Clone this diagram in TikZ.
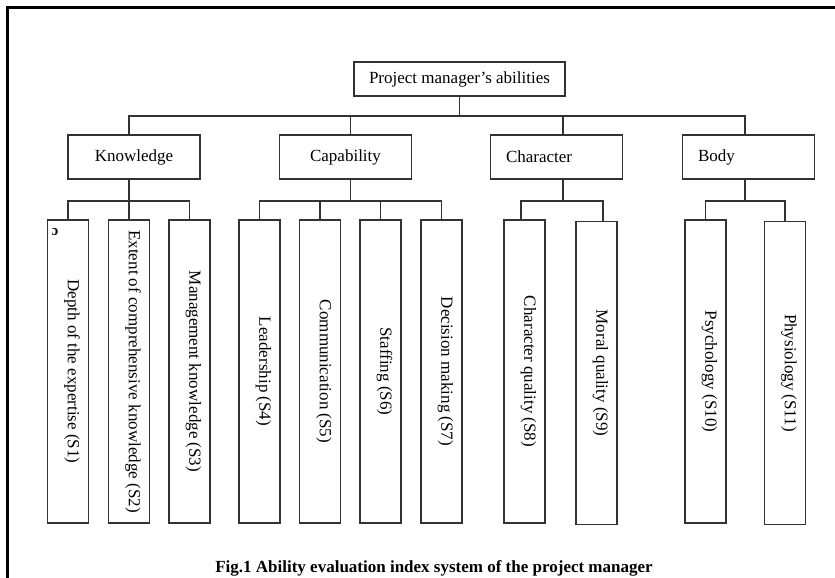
\documentclass[tikz,border=0pt]{standalone}
\usepackage{fontspec}
\setmainfont{Liberation Serif}
\usepackage{tikz}

\newcommand{\vtext}[1]{\hspace*{8pt}\rotatebox{-90}{#1}}

\begin{document}
\begin{tikzpicture}
		[x=1pt,y=-1pt,line cap=round,
		font=\fontsize{17}{20}\selectfont,
		%Styles
		box line/.style={draw=black!80,line width=1.6pt},
		root node/.style={box line,minimum width=211pt,minimum height=34pt,inner sep=0pt},
		group node/.style={box line,minimum width=132pt,minimum height=44pt,inner sep=0pt},
		left group/.style={group node,text width=101pt,inner xsep=15pt,align=left},
		leaf node/.style={box line,minimum width=41pt,minimum height=303pt,inner sep=0pt},
		connector/.style={black!80,line width=1.5pt},
		caption text/.style={font=\fontsize{17}{20}\selectfont\bfseries}
		]
		
		\useasboundingbox (0,0) rectangle (835,578);
		\draw[line width=2.5pt] (7.5,578) -- (7.5,7.5) -- (835,7.5);
		
		%The graphic
		\node[root node] (A) at (459.5, 79) {Project manager's abilities};
		
		\node[group node] (B) at (134, 157) {Knowledge};
		\node[group node] (C) at (345.5, 157) {Capability};
		\node[left group] (D) at (556.5, 157) {Character};
		\node[left group] (E) at (748.5, 157) {Body};
		
		\node[leaf node] (F) at (68, 371.5) {\vtext{Depth of the expertise (S1)}};
		\node[leaf node] (G) at (129, 371.5) {\vtext{Extent of comprehensive knowledge (S2)}};
		\node[leaf node] (H) at (189.5, 371.5) {\vtext{Management knowledge (S3)}};
		\node[leaf node] (I) at (259.5, 371.5) {\vtext{Leadership (S4)}};
		\node[leaf node] (J) at (320, 371.5) {\vtext{Communication (S5)}};
		\node[leaf node] (K) at (380.5, 371.5) {\vtext{Staffing (S6)}};
		\node[leaf node] (L) at (441.5, 371.5) {\vtext{Decision making (S7)}};
		\node[leaf node] (M) at (524.5, 371.5) {\vtext{Character quality (S8)}};
		\node[leaf node] (N) at (596.5, 373) {\vtext{Moral quality (S9)}};
		\node[leaf node] (O) at (705.5, 371.5) {\vtext{Psychology (S10)}};
		\node[leaf node] (P) at (785, 373) {\vtext{Physiology (S11)}};
		
		\node[font=\fontsize{15}{15}\selectfont\bfseries] (mark) at (55, 232) {\rotatebox{180}{c}};
		
		\node[caption text] (cap) at (434, 568) {Fig.1 Ability evaluation index system of the project manager};
		
		\draw[connector] (A.south) -- ++(0,19) -| ([xshift=-5pt]B.north);
		\draw[connector] (A.south) -- ++(0,19) -| ([xshift=5pt]C.north);
		\draw[connector] (A.south) -- ++(0,19) -| ([xshift=6.5pt]D.north);
		\draw[connector] (A.south) -- ++(0,19) -| ([xshift=-3.5pt]E.north);
		
		\draw[connector] ([xshift=-5pt]B.south) -- ++(0,21) -| (F.north);
		\draw[connector] ([xshift=-5pt]B.south) -- ++(0,21) -| (G.north);
		\draw[connector] ([xshift=-5pt]B.south) -- ++(0,21) -| (H.north);
		
		\draw[connector] ([xshift=5pt]C.south) -- ++(0,21) -| (I.north);
		\draw[connector] ([xshift=5pt]C.south) -- ++(0,21) -| (J.north);
		\draw[connector] ([xshift=5pt]C.south) -- ++(0,21) -| (K.north);
		\draw[connector] ([xshift=5pt]C.south) -- ++(0,21) -| (L.north);
		
		\draw[connector] ([xshift=6.5pt]D.south) -- ++(0,21) -| ([xshift=-3.5pt]M.north);
		\draw[connector] ([xshift=6.5pt]D.south) -- ++(0,21) -| ([xshift=6.5pt]N.north);
		
		\draw[connector] ([xshift=-3.5pt]E.south) -- ++(0,21) -| (O.north);
		\draw[connector] ([xshift=-3.5pt]E.south) -- ++(0,21) -| (P.north);
	\end{tikzpicture}
\end{document}
